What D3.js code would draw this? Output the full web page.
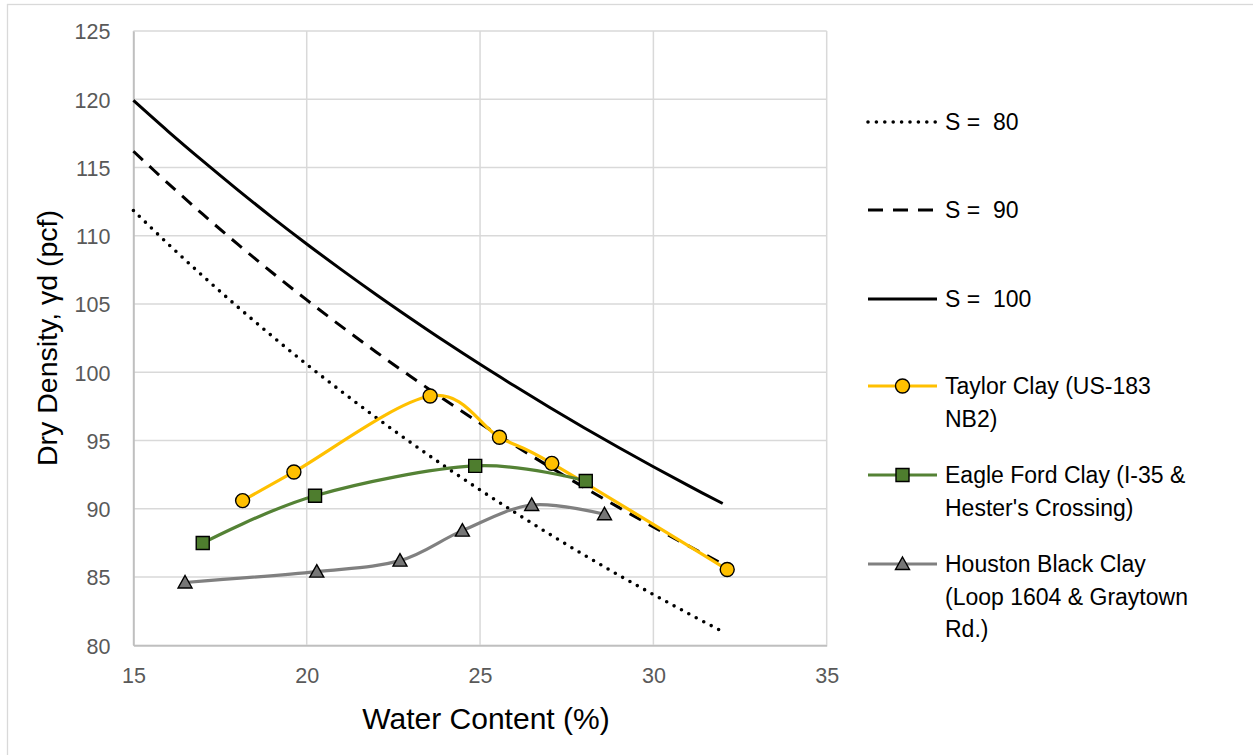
<!DOCTYPE html>
<html>
<head>
<meta charset="utf-8">
<script src="https://cdn.jsdelivr.net/npm/d3@7/dist/d3.min.js"></script>
<style>
  html, body { margin: 0; padding: 0; background: #fff; }
  svg { display: block; font-family: "Liberation Sans", Arial, sans-serif; }
  .leg text, .leg tspan { white-space: pre; }
</style>
</head>
<body>
<svg id="chart" width="1253" height="755"></svg>
<script>
// ---- Data ----
const satWater = [15,16,17,18,19,20,21,22,23,24,25,26,27,28,29,30,31,32];
const s80  = [111.85,109.40,107.06,104.81,102.65,100.58,98.60,96.69,94.85,93.08,91.38,89.74,88.15,86.62,85.14,83.72,82.34,81.00];
const s90  = [116.19,113.84,111.58,109.40,107.31,105.30,103.36,101.49,99.69,97.95,96.27,94.65,93.08,91.57,90.10,88.67,87.30,85.96];
const s100 = [119.91,117.65,115.48,113.38,111.35,109.40,107.52,105.70,103.94,102.23,100.58,98.99,97.44,95.94,94.49,93.08,91.71,90.39];

const taylorW = [18.15,19.63,23.56,25.56,27.07,32.13];
const taylorD = [90.6,92.7,98.26,95.24,93.33,85.55];
const eagleW  = [17.0,20.24,24.86,28.05];
const eagleD  = [87.49,90.96,93.14,92.04];
const houstonW = [16.49,20.29,22.69,24.49,26.49,28.59];
const houstonD = [84.6,85.4,86.2,88.4,90.28,89.6];

const xTicks = [15,20,25,30,35];
const yTicks = [80,85,90,95,100,105,110,115,120,125];

const seriesNames = {
  s80: ["S =  80"],
  s90: ["S =  90"],
  s100: ["S =  100"],
  taylor: ["Taylor Clay (US-183", "NB2)"],
  eagle: ["Eagle Ford Clay (I-35 &", "Hester's Crossing)"],
  houston: ["Houston Black Clay", "(Loop 1604 & Graytown", "Rd.)"]
};
const xTitle = "Water Content (%)";
const yTitle = "Dry Density, γd (pcf)";

// ---- Drawing ----
const svg = d3.select("#chart");
const plot = {left: 133.4, right: 826.7, top: 31, bottom: 645.3};

const x = d3.scaleLinear().domain([15,35]).range([plot.left, plot.right]);
const y = d3.scaleLinear().domain([80,125]).range([plot.bottom, plot.top]);

// outer chart border
svg.append("rect").attr("x",7.5).attr("y",4.5).attr("width",1300).attr("height",800)
  .attr("fill","none").attr("stroke","#d9d9d9").attr("stroke-width",1.3);

// gridlines
const grid = svg.append("g");
grid.selectAll("line.h").data(yTicks).join("line")
  .attr("x1", plot.left).attr("x2", plot.right)
  .attr("y1", d=>y(d)).attr("y2", d=>y(d))
  .attr("stroke","#d9d9d9").attr("stroke-width",1.5);
grid.selectAll("line.v").data(xTicks).join("line")
  .attr("y1", plot.top).attr("y2", plot.bottom)
  .attr("x1", d=>x(d)).attr("x2", d=>x(d))
  .attr("stroke","#d9d9d9").attr("stroke-width",1.5);

// axes
const xAxis = svg.append("g").attr("transform",`translate(0,${plot.bottom})`)
  .call(d3.axisBottom(x).tickValues(xTicks).tickSize(0).tickPadding(22).tickFormat(d3.format("d")));
const yAxis = svg.append("g").attr("transform",`translate(${plot.left},0)`)
  .call(d3.axisLeft(y).tickValues(yTicks).tickSize(0).tickPadding(23).tickFormat(d3.format("d")));
[xAxis, yAxis].forEach(a => {
  a.select(".domain").attr("stroke","#bfbfbf").attr("stroke-width",1.8);
  a.selectAll("text").attr("fill","#595959").attr("font-size","21.5px")
    .attr("font-family","'Liberation Sans', Arial, sans-serif");
});
yAxis.selectAll("text").attr("dy","0.36em");

// axis titles
svg.append("text").attr("x", 486).attr("y", 729).attr("text-anchor","middle")
  .attr("font-size","30px").attr("fill","#000").text(xTitle);
svg.append("text").attr("transform","translate(57,338) rotate(-90)").attr("text-anchor","middle")
  .attr("font-size","28.5px").attr("fill","#000").text(yTitle);

// lines
const smooth = d3.line().x(d=>x(d[0])).y(d=>y(d[1])).curve(d3.curveCatmullRom.alpha(0));
const zip = (a,b) => a.map((v,i)=>[v,b[i]]);

const sat = svg.append("g");
sat.append("path").datum(zip(satWater,s80)).attr("d",smooth)
  .attr("fill","none").attr("stroke","#000").attr("stroke-width",3.6)
  .attr("stroke-linecap","round").attr("stroke-dasharray","0,8.4");
sat.append("path").datum(zip(satWater,s90)).attr("d",smooth)
  .attr("fill","none").attr("stroke","#000").attr("stroke-width",3)
  .attr("stroke-dasharray","13,9");
sat.append("path").datum(zip(satWater,s100)).attr("d",smooth)
  .attr("fill","none").attr("stroke","#000").attr("stroke-width",3);

const yellow = "#ffc000", green = "#548235", greenFill = "#4e7d2e", gray = "#808080", grayFill = "#767676";

function drawSeries(w, d, color, marker, fill) {
  const g = svg.append("g");
  g.append("path").datum(zip(w,d)).attr("d",smooth)
    .attr("fill","none").attr("stroke",color).attr("stroke-width",3.2);
  const pts = zip(w,d);
  g.selectAll("path.m").data(pts).join("path")
    .attr("transform", p=>`translate(${x(p[0])},${y(p[1])})`)
    .attr("d", marker)
    .attr("fill", fill).attr("stroke","#000").attr("stroke-width",1.4);
}
const circleM = d3.symbol().type(d3.symbolCircle).size(Math.PI*7*7)();
const squareM = "M-6.5,-6.5H6.5V6.5H-6.5Z";
const triM = "M0,-7L7,5.5H-7Z";
drawSeries(taylorW, taylorD, yellow, circleM, yellow);
drawSeries(eagleW, eagleD, green, squareM, greenFill);
drawSeries(houstonW, houstonD, gray, triM, grayFill);

// legend
const legend = svg.append("g").attr("class","leg");
const legItems = [
  {key:"s80", y:122, stroke:"#000", w:3.6, dash:"0,8.4", cap:"round"},
  {key:"s90", y:210, stroke:"#000", w:3, dash:"15,10", cap:"butt"},
  {key:"s100", y:299, stroke:"#000", w:3, dash:null, cap:"butt"},
  {key:"taylor", y:386, stroke:yellow, w:3.2, marker:circleM, fill:yellow},
  {key:"eagle", y:475, stroke:green, w:3.2, marker:squareM, fill:greenFill},
  {key:"houston", y:564, stroke:gray, w:3.2, marker:triM, fill:grayFill}
];
legItems.forEach(it => {
  const g = legend.append("g");
  g.append("line").attr("x1",868).attr("x2",937).attr("y1",it.y).attr("y2",it.y)
    .attr("stroke",it.stroke).attr("stroke-width",it.w)
    .attr("stroke-dasharray",it.dash).attr("stroke-linecap",it.cap);
  if (it.marker) {
    g.append("path").attr("transform",`translate(902.5,${it.y})`).attr("d",it.marker)
      .attr("fill",it.fill).attr("stroke","#000").attr("stroke-width",1.4);
  }
  const t = g.append("text").attr("x",945).attr("y",it.y+8).attr("font-size","23px").attr("fill","#000");
  seriesNames[it.key].forEach((line,i)=>{
    t.append("tspan").attr("x",945).attr("dy", i===0?0:32.5).text(line);
  });
});
</script>
</body>
</html>
